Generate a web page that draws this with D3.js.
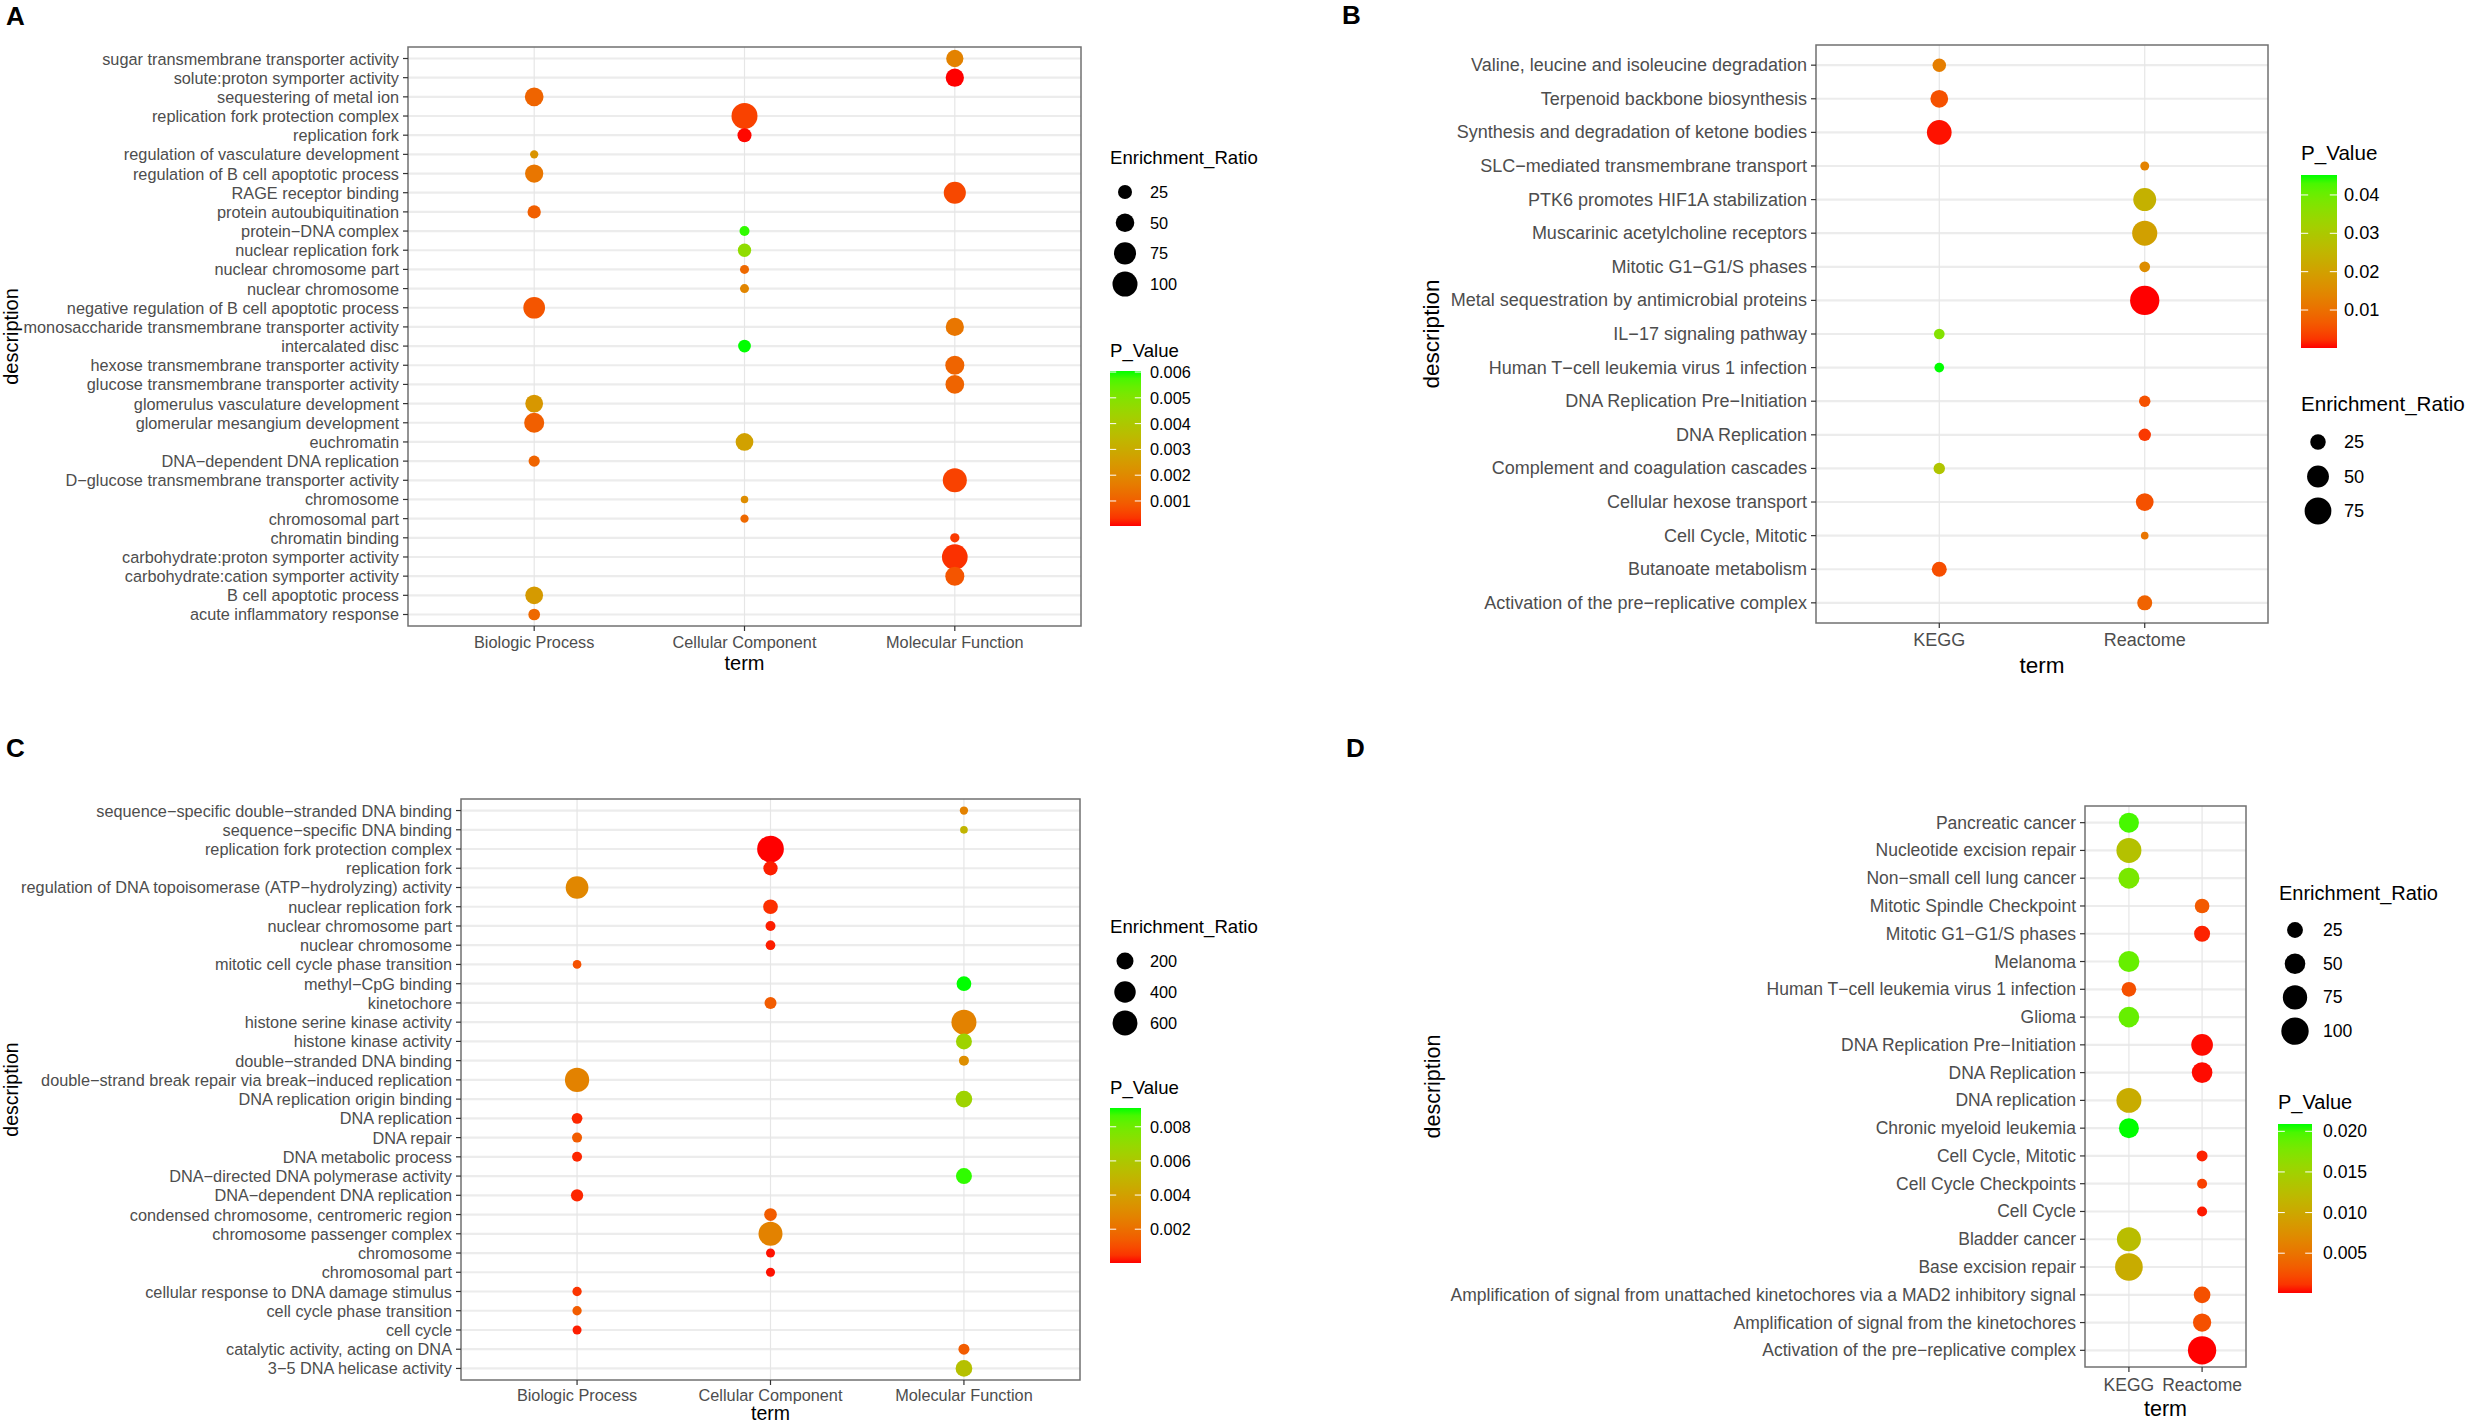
<!DOCTYPE html>
<html>

<head>
  <title>Enrichment dot plots</title>
  <script src="https://d3js.org/d3.v7.min.js"></script>
  <style>
    body {
      margin: 0;
      background: #ffffff;
      font-family: "Liberation Sans", Arial, sans-serif;
    }

    .tick-label {
      fill: #4d4d4d;
    }

    .axis-title,
    .legend-title,
    .legend-label {
      fill: #000000;
    }
  </style>
</head>

<body>
  <svg id="chart"></svg>

  <script>
    // ---------- Panel A (GO terms) ----------
    const termsA = ["Biologic Process", "Cellular Component", "Molecular Function"];
    const descA = [
      "sugar transmembrane transporter activity",
      "solute:proton symporter activity",
      "sequestering of metal ion",
      "replication fork protection complex",
      "replication fork",
      "regulation of vasculature development",
      "regulation of B cell apoptotic process",
      "RAGE receptor binding",
      "protein autoubiquitination",
      "protein\u2212DNA complex",
      "nuclear replication fork",
      "nuclear chromosome part",
      "nuclear chromosome",
      "negative regulation of B cell apoptotic process",
      "monosaccharide transmembrane transporter activity",
      "intercalated disc",
      "hexose transmembrane transporter activity",
      "glucose transmembrane transporter activity",
      "glomerulus vasculature development",
      "glomerular mesangium development",
      "euchromatin",
      "DNA\u2212dependent DNA replication",
      "D\u2212glucose transmembrane transporter activity",
      "chromosome",
      "chromosomal part",
      "chromatin binding",
      "carbohydrate:proton symporter activity",
      "carbohydrate:cation symporter activity",
      "B cell apoptotic process",
      "acute inflammatory response"
    ];
    const termOfA = [
      "Molecular Function", "Molecular Function", "Biologic Process", "Cellular Component", "Cellular Component",
      "Biologic Process", "Biologic Process", "Molecular Function", "Biologic Process", "Cellular Component",
      "Cellular Component", "Cellular Component", "Cellular Component", "Biologic Process", "Molecular Function",
      "Cellular Component", "Molecular Function", "Molecular Function", "Biologic Process", "Biologic Process",
      "Cellular Component", "Biologic Process", "Molecular Function", "Cellular Component", "Cellular Component",
      "Molecular Function", "Molecular Function", "Molecular Function", "Biologic Process", "Biologic Process"
    ];
    const ratioA = [42, 48, 51, 109, 25, 5.8, 48, 75, 22, 10, 22, 7.5, 7.5, 72, 48,
      19.5, 53, 51, 45, 60, 45, 14, 91, 4.2, 5.8, 8.2, 106, 53, 45, 15.7];
    const pValueA = [0.0018, 0.00003, 0.0011, 0.0005, 0.00005, 0.0023, 0.0015, 0.0006, 0.001, 0.0059,
      0.0047, 0.0012, 0.0019, 0.0008, 0.0015, 0.00604, 0.0011, 0.0011, 0.0024, 0.001,
      0.0027, 0.0011, 0.0005, 0.0021, 0.0012, 0.0004, 0.0003, 0.0008, 0.0025, 0.0012];
    const sizeBreaksA = [25, 50, 75, 100];
    const colorBreaksA = [0.001, 0.002, 0.003, 0.004, 0.005, 0.006];

    // ---------- Panel B (KEGG / Reactome) ----------
    const termsB = ["KEGG", "Reactome"];
    const descB = [
      "Valine, leucine and isoleucine degradation",
      "Terpenoid backbone biosynthesis",
      "Synthesis and degradation of ketone bodies",
      "SLC\u2212mediated transmembrane transport",
      "PTK6 promotes HIF1A stabilization",
      "Muscarinic acetylcholine receptors",
      "Mitotic G1\u2212G1/S phases",
      "Metal sequestration by antimicrobial proteins",
      "IL\u221217 signaling pathway",
      "Human T\u2212cell leukemia virus 1 infection",
      "DNA Replication Pre\u2212Initiation",
      "DNA Replication",
      "Complement and coagulation cascades",
      "Cellular hexose transport",
      "Cell Cycle, Mitotic",
      "Butanoate metabolism",
      "Activation of the pre\u2212replicative complex"
    ];
    const termOfB = ["KEGG", "KEGG", "KEGG", "Reactome", "Reactome", "Reactome", "Reactome", "Reactome",
      "KEGG", "KEGG", "Reactome", "Reactome", "KEGG", "Reactome", "Reactome", "KEGG", "Reactome"];
    const ratioB = [19, 33, 64, 8.4, 55, 66, 12, 90, 12, 9.8, 13.6, 16, 13.6, 33, 6, 23.5, 23.5];
    const pValueB = [0.0126, 0.0054, 0.0005, 0.0135, 0.024, 0.020, 0.0158, 0.0001, 0.037, 0.0452,
      0.0054, 0.0027, 0.029, 0.0054, 0.011, 0.005, 0.008];
    const sizeBreaksB = [25, 50, 75];
    const colorBreaksB = [0.01, 0.02, 0.03, 0.04];

    // ---------- Panel C (GO terms) ----------
    const termsC = ["Biologic Process", "Cellular Component", "Molecular Function"];
    const descC = [
      "sequence\u2212specific double\u2212stranded DNA binding",
      "sequence\u2212specific DNA binding",
      "replication fork protection complex",
      "replication fork",
      "regulation of DNA topoisomerase (ATP\u2212hydrolyzing) activity",
      "nuclear replication fork",
      "nuclear chromosome part",
      "nuclear chromosome",
      "mitotic cell cycle phase transition",
      "methyl\u2212CpG binding",
      "kinetochore",
      "histone serine kinase activity",
      "histone kinase activity",
      "double\u2212stranded DNA binding",
      "double\u2212strand break repair via break\u2212induced replication",
      "DNA replication origin binding",
      "DNA replication",
      "DNA repair",
      "DNA metabolic process",
      "DNA\u2212directed DNA polymerase activity",
      "DNA\u2212dependent DNA replication",
      "condensed chromosome, centromeric region",
      "chromosome passenger complex",
      "chromosome",
      "chromosomal part",
      "cellular response to DNA damage stimulus",
      "cell cycle phase transition",
      "cell cycle",
      "catalytic activity, acting on DNA",
      "3\u22125 DNA helicase activity"
    ];
    const termOfC = [
      "Molecular Function", "Molecular Function", "Cellular Component", "Cellular Component", "Biologic Process",
      "Cellular Component", "Cellular Component", "Cellular Component", "Biologic Process", "Molecular Function",
      "Cellular Component", "Molecular Function", "Molecular Function", "Molecular Function", "Biologic Process",
      "Molecular Function", "Biologic Process", "Biologic Process", "Biologic Process", "Molecular Function",
      "Biologic Process", "Cellular Component", "Cellular Component", "Cellular Component", "Cellular Component",
      "Biologic Process", "Biologic Process", "Biologic Process", "Molecular Function", "Molecular Function"
    ];
    const ratioC = [7.7, 4, 720, 113, 467, 124, 25, 21, 11, 124, 58, 605, 165, 25, 562,
      189, 35, 25, 25, 165, 64, 73, 544, 13.7, 13.7, 16.7, 16.7, 13.7, 40, 189];
    const pValueC = [0.0027, 0.005, 0.00002, 0.0002, 0.0029, 0.0004, 0.0002, 0.0002, 0.0011, 0.0091,
      0.0014, 0.0027, 0.0066, 0.0032, 0.0027, 0.0066, 0.0003, 0.0014, 0.0003, 0.0089,
      0.0003, 0.0014, 0.0027, 0.0001, 0.0001, 0.0005, 0.0014, 0.0002, 0.0014, 0.0056];
    const sizeBreaksC = [200, 400, 600];
    const colorBreaksC = [0.002, 0.004, 0.006, 0.008];

    // ---------- Panel D (KEGG / Reactome) ----------
    const termsD = ["KEGG", "Reactome"];
    const descD = [
      "Pancreatic cancer",
      "Nucleotide excision repair",
      "Non\u2212small cell lung cancer",
      "Mitotic Spindle Checkpoint",
      "Mitotic G1\u2212G1/S phases",
      "Melanoma",
      "Human T\u2212cell leukemia virus 1 infection",
      "Glioma",
      "DNA Replication Pre\u2212Initiation",
      "DNA Replication",
      "DNA replication",
      "Chronic myeloid leukemia",
      "Cell Cycle, Mitotic",
      "Cell Cycle Checkpoints",
      "Cell Cycle",
      "Bladder cancer",
      "Base excision repair",
      "Amplification of signal from unattached kinetochores via a MAD2 inhibitory signal",
      "Amplification of signal from the kinetochores",
      "Activation of the pre\u2212replicative complex"
    ];
    const termOfD = ["KEGG", "KEGG", "KEGG", "Reactome", "Reactome", "KEGG", "KEGG", "KEGG", "Reactome",
      "Reactome", "KEGG", "KEGG", "Reactome", "Reactome", "Reactome", "KEGG", "KEGG", "Reactome",
      "Reactome", "Reactome"];
    const ratioD = [46, 80, 52, 20, 25.5, 52, 20, 50, 56.6, 50, 80, 46, 8.3, 6, 6, 72.6, 102.6, 28.6, 36.6, 108];
    const pValueD = [0.0199, 0.013, 0.0178, 0.0031, 0.0006, 0.0188, 0.0025, 0.0188, 0.0002, 0.0002,
      0.0105, 0.0209, 0.0006, 0.0017, 0.0004, 0.0125, 0.0105, 0.0025, 0.0025, 0.0001];
    const sizeBreaksD = [25, 50, 75, 100];
    const colorBreaksD = [0.005, 0.010, 0.015, 0.020];

    // Set up the page size
    const width = 2477;
    const height = 1425;

    const svg = d3
      .select("#chart")
      .attr("width", width)
      .attr("height", height)
      .style("display", "block");

    svg.append("rect").attr("width", width).attr("height", height).attr("fill", "#ffffff");
    const defs = svg.append("defs");

    // low p-value = red, high = green (ggplot-style Lab gradient)
    const redGreen = d3.interpolateLab("#ff0000", "#00ff00");

    // Layout of each panel (positions only, values come from the arrays above)
    const panels = [
      {
        id: "A", letter: [6, 25], terms: termsA, desc: descA, termOf: termOfA, ratio: ratioA, pval: pValueA,
        box: { left: 408, right: 1081, top: 47, bottom: 626 }, rRange: [3.75, 13],
        font: { tick: 16.3, title: 20, legTitle: 18.6, legLabel: 16.3 },
        xLabelY: 642, xTitleY: 663, yTitleX: 11,
        sizeBreaks: sizeBreaksA, colorBreaks: colorBreaksA, fmt: ".3f",
        sizeLegend: { x: 1110, titleY: 157, cx: 1125, y0: 192, step: 30.7, labelX: 1150 },
        colorLegend: { x: 1110, titleY: 350, top: 371, bottom: 526, w: 31, labelX: 1150 }
      },
      {
        id: "B", letter: [1342, 24], terms: termsB, desc: descB, termOf: termOfB, ratio: ratioB, pval: pValueB,
        box: { left: 1816, right: 2268, top: 45, bottom: 623 }, rRange: [3.8, 14.65],
        font: { tick: 18, title: 22.5, legTitle: 20.6, legLabel: 18.2 },
        xLabelY: 640, xTitleY: 665, yTitleX: 1431,
        sizeBreaks: sizeBreaksB, colorBreaks: colorBreaksB, fmt: ".2f",
        sizeLegend: { x: 2301, titleY: 403, cx: 2318, y0: 442, step: 34.5, labelX: 2344 },
        colorLegend: { x: 2301, titleY: 152, top: 175, bottom: 348, w: 36, labelX: 2344 }
      },
      {
        id: "C", letter: [6, 757], terms: termsC, desc: descC, termOf: termOfC, ratio: ratioC, pval: pValueC,
        box: { left: 461, right: 1080, top: 799, bottom: 1380 }, rRange: [3.85, 13.35],
        font: { tick: 16.3, title: 19.5, legTitle: 18.6, legLabel: 16.3 },
        xLabelY: 1395, xTitleY: 1413, yTitleX: 11,
        sizeBreaks: sizeBreaksC, colorBreaks: colorBreaksC, fmt: ".3f",
        sizeLegend: { x: 1110, titleY: 926, cx: 1125, y0: 961, step: 31, labelX: 1150 },
        colorLegend: { x: 1110, titleY: 1087, top: 1108, bottom: 1263, w: 31, labelX: 1150 }
      },
      {
        id: "D", letter: [1346, 757], terms: termsD, desc: descD, termOf: termOfD, ratio: ratioD, pval: pValueD,
        box: { left: 2085, right: 2246, top: 806, bottom: 1367 }, rRange: [5, 14.15],
        font: { tick: 17.5, title: 21.5, legTitle: 20, legLabel: 17.6 },
        xLabelY: 1385, xTitleY: 1409, yTitleX: 1433,
        sizeBreaks: sizeBreaksD, colorBreaks: colorBreaksD, fmt: ".3f",
        sizeLegend: { x: 2279, titleY: 893, cx: 2295, y0: 930, step: 33.7, labelX: 2323 },
        colorLegend: { x: 2278, titleY: 1102, top: 1124, bottom: 1293, w: 34, labelX: 2323 }
      }
    ];

    panels.forEach(drawPanel);

    // Function to draw one dot-plot panel with its legends
    function drawPanel(cfg) {
      const g = svg.append("g").attr("class", "panel-" + cfg.id);
      const b = cfg.box;
      const rows = cfg.desc.map((d, i) => ({
        desc: d, term: cfg.termOf[i], ratio: cfg.ratio[i], p: cfg.pval[i]
      }));

      // discrete scales with ggplot-like 0.6 expansion
      const x = d3.scalePoint().domain(cfg.terms).range([b.left, b.right]).padding(0.6);
      const y = d3.scalePoint().domain(cfg.desc).range([b.top, b.bottom]).padding(0.6);
      const size = d3.scaleSqrt().domain(d3.extent(cfg.ratio)).range(cfg.rRange);
      const pExtent = d3.extent(cfg.pval);
      const colorT = d3.scaleLinear().domain(pExtent).range([0, 1]).clamp(true);
      const color = (v) => redGreen(colorT(v));

      // grid
      g.append("g")
        .selectAll("line")
        .data(cfg.desc)
        .join("line")
        .attr("x1", b.left).attr("x2", b.right)
        .attr("y1", (d) => y(d)).attr("y2", (d) => y(d))
        .attr("stroke", "#ececec")
        .attr("stroke-width", 2.2);

      g.append("g")
        .selectAll("line")
        .data(cfg.terms)
        .join("line")
        .attr("x1", (d) => x(d)).attr("x2", (d) => x(d))
        .attr("y1", b.top).attr("y2", b.bottom)
        .attr("stroke", "#e6e6e6")
        .attr("stroke-width", 1.2);

      // points
      g.append("g")
        .selectAll("circle")
        .data(rows)
        .join("circle")
        .attr("cx", (d) => x(d.term))
        .attr("cy", (d) => y(d.desc))
        .attr("r", (d) => size(d.ratio))
        .attr("fill", (d) => color(d.p));

      // panel border
      g.append("rect")
        .attr("x", b.left).attr("y", b.top)
        .attr("width", b.right - b.left).attr("height", b.bottom - b.top)
        .attr("fill", "none")
        .attr("stroke", "#707070")
        .attr("stroke-width", 1.5);

      // y axis ticks and labels
      const yAxis = g.append("g");
      yAxis.selectAll("line")
        .data(cfg.desc)
        .join("line")
        .attr("x1", b.left - 5).attr("x2", b.left)
        .attr("y1", (d) => y(d)).attr("y2", (d) => y(d))
        .attr("stroke", "#333333")
        .attr("stroke-width", 1.2);
      yAxis.selectAll("text")
        .data(cfg.desc)
        .join("text")
        .attr("class", "tick-label")
        .attr("x", b.left - 9)
        .attr("y", (d) => y(d))
        .attr("text-anchor", "end")
        .attr("dominant-baseline", "central")
        .style("font-size", cfg.font.tick + "px")
        .text((d) => d);

      // x axis ticks and labels
      const xAxis = g.append("g");
      xAxis.selectAll("line")
        .data(cfg.terms)
        .join("line")
        .attr("x1", (d) => x(d)).attr("x2", (d) => x(d))
        .attr("y1", b.bottom).attr("y2", b.bottom + 5)
        .attr("stroke", "#333333")
        .attr("stroke-width", 1.2);
      xAxis.selectAll("text")
        .data(cfg.terms)
        .join("text")
        .attr("class", "tick-label")
        .attr("x", (d) => x(d))
        .attr("y", cfg.xLabelY)
        .attr("text-anchor", "middle")
        .attr("dominant-baseline", "central")
        .style("font-size", cfg.font.tick + "px")
        .text((d) => d);

      // axis titles
      g.append("text")
        .attr("class", "axis-title")
        .attr("x", (b.left + b.right) / 2)
        .attr("y", cfg.xTitleY)
        .attr("text-anchor", "middle")
        .attr("dominant-baseline", "central")
        .style("font-size", cfg.font.title + "px")
        .text("term");

      g.append("text")
        .attr("class", "axis-title")
        .attr("transform", `translate(${cfg.yTitleX}, ${(b.top + b.bottom) / 2}) rotate(-90)`)
        .attr("text-anchor", "middle")
        .attr("dominant-baseline", "central")
        .style("font-size", cfg.font.title + "px")
        .text("description");

      // panel letter
      g.append("text")
        .attr("x", cfg.letter[0])
        .attr("y", cfg.letter[1])
        .style("font-size", "26px")
        .style("font-weight", "bold")
        .text(cfg.id);

      // size legend
      const sl = cfg.sizeLegend;
      g.append("text")
        .attr("class", "legend-title")
        .attr("x", sl.x)
        .attr("y", sl.titleY)
        .attr("dominant-baseline", "central")
        .style("font-size", cfg.font.legTitle + "px")
        .text("Enrichment_Ratio");

      const keys = g.append("g")
        .selectAll("g")
        .data(cfg.sizeBreaks)
        .join("g");
      keys.append("circle")
        .attr("cx", sl.cx)
        .attr("cy", (d, i) => sl.y0 + i * sl.step)
        .attr("r", (d) => size(d))
        .attr("fill", "#000000");
      keys.append("text")
        .attr("class", "legend-label")
        .attr("x", sl.labelX)
        .attr("y", (d, i) => sl.y0 + i * sl.step)
        .attr("dominant-baseline", "central")
        .style("font-size", cfg.font.legLabel + "px")
        .text((d) => d);

      // colour bar legend
      const cl = cfg.colorLegend;
      const gradId = "grad-" + cfg.id;
      const grad = defs.append("linearGradient")
        .attr("id", gradId)
        .attr("x1", 0).attr("y1", 1).attr("x2", 0).attr("y2", 0);
      d3.range(0, 1.0001, 0.05).forEach((t) => {
        grad.append("stop")
          .attr("offset", t)
          .attr("stop-color", redGreen(t));
      });

      g.append("text")
        .attr("class", "legend-title")
        .attr("x", cl.x)
        .attr("y", cl.titleY)
        .attr("dominant-baseline", "central")
        .style("font-size", cfg.font.legTitle + "px")
        .text("P_Value");

      g.append("rect")
        .attr("x", cl.x).attr("y", cl.top)
        .attr("width", cl.w).attr("height", cl.bottom - cl.top)
        .attr("fill", `url(#${gradId})`);

      const barY = d3.scaleLinear().domain(pExtent).range([cl.bottom, cl.top]);
      const ticks = g.append("g")
        .selectAll("g")
        .data(cfg.colorBreaks)
        .join("g");
      ticks.append("line")
        .attr("x1", cl.x).attr("x2", cl.x + cl.w * 0.2)
        .attr("y1", (d) => barY(d)).attr("y2", (d) => barY(d))
        .attr("stroke", "#ffffff").attr("stroke-width", 1);
      ticks.append("line")
        .attr("x1", cl.x + cl.w * 0.8).attr("x2", cl.x + cl.w)
        .attr("y1", (d) => barY(d)).attr("y2", (d) => barY(d))
        .attr("stroke", "#ffffff").attr("stroke-width", 1);
      ticks.append("text")
        .attr("class", "legend-label")
        .attr("x", cl.labelX)
        .attr("y", (d) => barY(d))
        .attr("dominant-baseline", "central")
        .style("font-size", cfg.font.legLabel + "px")
        .text((d) => d3.format(cfg.fmt)(d));
    }
  </script>
</body>

</html>
